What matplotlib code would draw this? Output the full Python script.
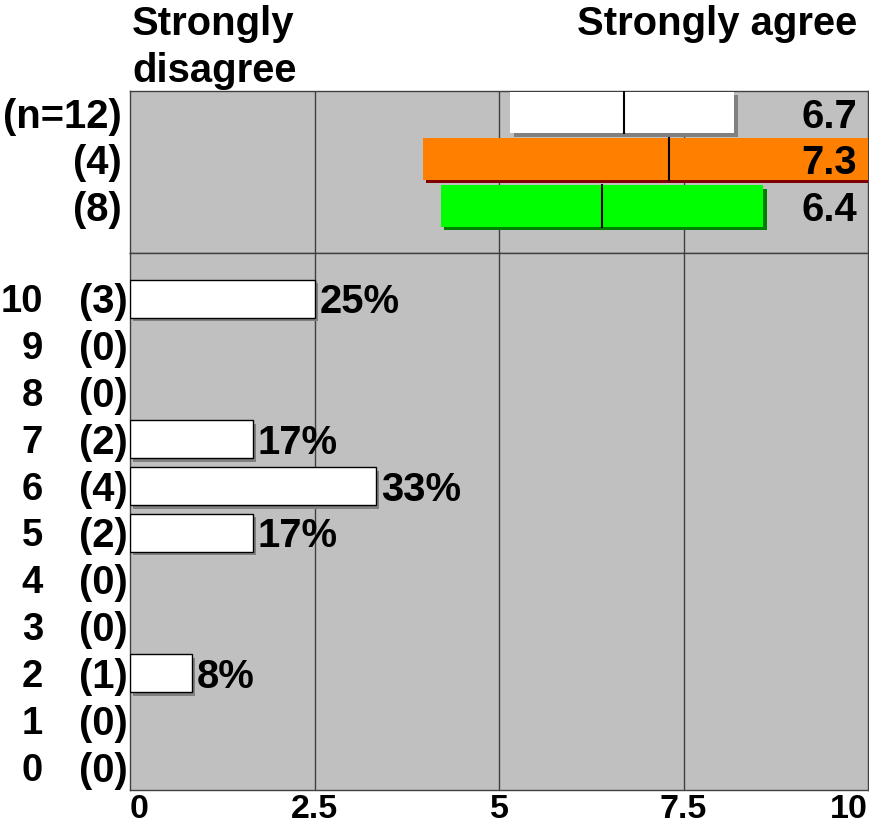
import matplotlib.pyplot as plt
import matplotlib.patheffects as pe
from matplotlib.transforms import offset_copy

plt.rcParams['font.family'] = ['Liberation Sans', 'DejaVu Sans']
plt.rcParams['font.weight'] = 'bold'

# summary rows: whole sample and two subgroups
group_n = ['(n=12)', '(4)', '(8)']
group_mean = [6.7, 7.3, 6.4]
group_lo = [5.15, 3.97, 4.21]
group_hi = [8.19, 10.55, 8.58]
group_color = ['#ffffff', '#ff8000', '#00ff00']
group_shadow = ['#808080', '#800000', '#008000']

# answer distribution
scores = [10, 9, 8, 7, 6, 5, 4, 3, 2, 1, 0]
counts = [3, 0, 0, 2, 4, 2, 0, 0, 1, 0, 0]
n_total = 12

ticks = [0, 2.5, 5, 7.5, 10]
tick_labels = ['0', '2.5', '5', '7.5', '10']

W, H = 869, 827
BG = '#c0c0c0'
LINE = '#404040'
FS = 28.8

fig = plt.figure(figsize=(W / 100, H / 100), dpi=100)
ax_top = fig.add_axes([130 / W, 1 - 253 / H, 738 / W, 162 / H])
ax_bot = fig.add_axes([130 / W, 1 - 790 / H, 738 / W, 537 / H])

for ax in (ax_top, ax_bot):
    ax.set_facecolor(BG)
    ax.set_xlim(0, 10)
    for s in ax.spines.values():
        s.set_color(LINE)
        s.set_linewidth(1.0)
    for g in ticks[1:-1]:
        ax.axvline(g, color=LINE, lw=1.0, zorder=1)
    ax.set_yticks([])

ax_top.set_ylim(3.01, -0.46)
ax_bot.set_ylim(10.49, -0.98)
ax_top.set_xticks([])

# row labels sit a little below the bar centre
ytr_top = offset_copy(ax_top.get_yaxis_transform(), fig=fig, y=-3, units='points')
ytr_bot = offset_copy(ax_bot.get_yaxis_transform(), fig=fig, y=-2.5, units='points')

# means with confidence bars
for i in range(len(group_n)):
    bar = ax_top.barh(i, group_hi[i] - group_lo[i], left=group_lo[i], height=0.89,
                      color=group_color[i], zorder=3)
    bar[0].set_path_effects([
        pe.SimplePatchShadow(offset=(2.5, -2.5), shadow_rgbFace=group_shadow[i], alpha=1.0),
        pe.Normal()])
    ax_top.plot([group_mean[i], group_mean[i]], [i - 0.445, i + 0.445],
                color='black', lw=1.5, zorder=4)
    ax_top.text(-8 / 738, i, group_n[i], transform=ytr_top,
                ha='right', va='center', fontsize=FS)
    ax_top.text(1 - 11 / 738, i, f'{group_mean[i]:.1f}', transform=ytr_top,
                ha='right', va='center', fontsize=FS, zorder=5)

# distribution of answers
for i, (s, c) in enumerate(zip(scores, counts)):
    pct = c / n_total * 100
    ax_bot.text(-87 / 738, i, str(s), transform=ytr_bot, ha='right', va='center', fontsize=27.5)
    ax_bot.text(-2 / 738, i, f'({c})', transform=ytr_bot, ha='right', va='center', fontsize=FS)
    if c == 0:
        continue
    bar = ax_bot.barh(i, pct / 10, left=0, height=0.81, color='white',
                      edgecolor='black', lw=1.0, zorder=3)
    bar[0].set_path_effects([
        pe.SimplePatchShadow(offset=(2.5, -2.5), shadow_rgbFace='#808080', alpha=1.0),
        pe.Normal()])
    ax_bot.annotate(f'{pct:.0f}%', xy=(pct / 10, i), xytext=(3.5, -2.5),
                    textcoords='offset points', ha='left', va='center', fontsize=FS)

ax_bot.set_xticks(ticks, tick_labels)
ax_bot.tick_params(axis='x', length=0, pad=3, labelsize=24.5)
labels = ax_bot.get_xticklabels()
labels[0].set_ha('left')
labels[-1].set_ha('right')

fig.text(132 / W, 1 - 35 / H, 'Strongly', ha='left', va='baseline', fontsize=FS)
fig.text(132 / W, 1 - 82 / H, 'disagree', ha='left', va='baseline', fontsize=FS)
fig.text(857 / W, 1 - 35 / H, 'Strongly agree', ha='right', va='baseline', fontsize=FS)

fig.savefig('out.png', dpi=100)
